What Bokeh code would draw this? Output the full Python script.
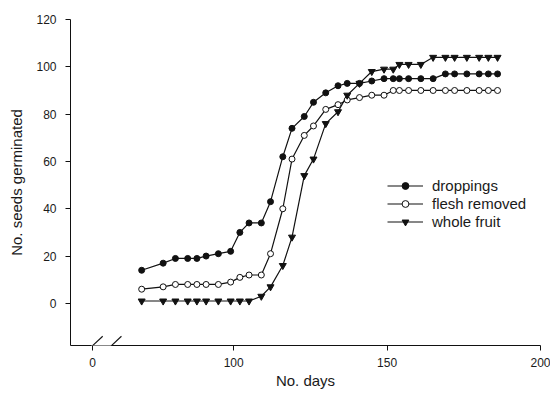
from bokeh.plotting import figure
from bokeh.models import (ColumnDataSource, FixedTicker, Legend, LegendItem,
                          PolyAnnotation, Range1d)
from bokeh.embed import file_html
from bokeh.resources import INLINE

# ---- data ----
days = [70, 77, 81, 85, 88, 91, 95, 99, 102, 105,
        109, 112, 116, 119, 123, 126, 130, 134, 137, 141,
        145, 149, 152, 154, 157, 161, 165, 169, 172, 176,
        180, 183, 186]
droppings = [14, 17, 19, 19, 19, 20, 21, 22, 30, 34,
             34, 43, 62, 74, 79, 85, 89, 92, 93, 93,
             94, 95, 95, 95, 95, 95, 95, 97, 97, 97,
             97, 97, 97]
flesh_removed = [6, 7, 8, 8, 8, 8, 8, 9, 11, 12,
                 12, 21, 40, 61, 71, 75, 82, 84, 86, 87,
                 88, 88, 90, 90, 90, 90, 90, 90, 90, 90,
                 90, 90, 90]
whole_fruit = [1, 1, 1, 1, 1, 1, 1, 1, 1, 1,
               3, 7, 16, 28, 54, 61, 76, 81, 88, 93,
               98, 99, 99, 101, 101, 101, 104, 104, 104, 104,
               104, 104, 104]

series_labels = ["droppings", "flesh removed", "whole fruit"]
y_ticks = [0, 20, 40, 60, 80, 100, 120]
x_ticks = [100, 150, 200]
break_label = "0"

# ---- layout constants ----
FONT = "Liberation Sans"
X_START, X_END = 46.8, 200
Y_START, Y_END = -17.8, 120
BREAK_LABEL_X = 54           # where the "0" of the broken axis sits
GAP_X0, GAP_X1 = 53.6, 60.1  # gap in the axis line
SLASH1 = ([50.9, 57.3], [-21.6, -13.9])
SLASH2 = ([57.1, 63.4], [-21.6, -13.9])

p = figure(width=550, height=402, output_backend="svg", toolbar_location=None,
           x_range=Range1d(X_START, X_END), y_range=Range1d(Y_START, Y_END),
           min_border_left=70, min_border_right=10, min_border_top=19,
           min_border_bottom=57)
p.grid.visible = False
p.outline_line_color = None
p.background_fill_color = "white"
p.border_fill_color = "white"

src = ColumnDataSource(dict(day=days, droppings=droppings,
                            flesh=flesh_removed, whole=whole_fruit))

LC = "#111111"
l1 = p.line("day", "droppings", source=src, line_color=LC, line_width=1.2)
l2 = p.line("day", "flesh", source=src, line_color=LC, line_width=1.2)
l3 = p.line("day", "whole", source=src, line_color=LC, line_width=1.2)
s1 = p.scatter("day", "droppings", source=src, marker="circle", size=6,
               fill_color=LC, line_color=LC, line_width=1)
s2 = p.scatter("day", "flesh", source=src, marker="circle", size=6,
               fill_color="white", line_color=LC, line_width=1)
s3 = p.scatter("day", "whole", source=src, marker="inverted_triangle", size=7,
               fill_color=LC, line_color=LC, line_width=1)

# ---- axes ----
ya = p.yaxis[0]
ya.ticker = FixedTicker(ticks=y_ticks)
ya.minor_tick_line_color = None
ya.major_tick_in = 0
ya.major_tick_out = 5
ya.axis_line_color = LC
ya.major_tick_line_color = LC
ya.major_label_standoff = 9
ya.major_label_text_font = FONT
ya.major_label_text_font_size = "12px"
ya.major_label_text_color = "#1a1a1a"
ya.axis_label = "No. seeds germinated"
ya.axis_label_text_font = FONT
ya.axis_label_text_font_size = "15px"
ya.axis_label_text_font_style = "normal"
ya.axis_label_text_color = "#1a1a1a"
ya.axis_label_standoff = 8

xa = p.xaxis[0]
xa.ticker = FixedTicker(ticks=[BREAK_LABEL_X] + x_ticks)
xa.major_label_overrides = {BREAK_LABEL_X: break_label}
xa.minor_tick_line_color = None
xa.major_tick_in = 0
xa.major_tick_out = 5
xa.axis_line_color = LC
xa.major_tick_line_color = LC
xa.major_label_standoff = 7
xa.major_label_text_font = FONT
xa.major_label_text_font_size = "12px"
xa.major_label_text_color = "#1a1a1a"
xa.axis_label = "No. days"
xa.axis_label_text_font = FONT
xa.axis_label_text_font_size = "15px"
xa.axis_label_text_font_style = "normal"
xa.axis_label_text_color = "#1a1a1a"
xa.axis_label_standoff = 2

# ---- axis break ----
p.add_layout(PolyAnnotation(xs=[GAP_X0, GAP_X1, GAP_X1, GAP_X0],
                            ys=[-17.1, -17.1, -20.9, -20.9],
                            fill_color="white", fill_alpha=1.0,
                            line_color=None))
for xs, ys in (SLASH1, SLASH2):
    p.add_layout(PolyAnnotation(xs=xs, ys=ys, fill_color=None, fill_alpha=0,
                                line_color=LC, line_alpha=1.0, line_width=1.1))

# ---- legend ----
legend = Legend(items=[LegendItem(label=series_labels[0], renderers=[l1, s1]),
                       LegendItem(label=series_labels[1], renderers=[l2, s2]),
                       LegendItem(label=series_labels[2], renderers=[l3, s3])],
                location=(317, 115), orientation="vertical", padding=0, margin=0,
                spacing=1, glyph_width=36, glyph_height=17, label_height=17,
                label_standoff=9, label_text_font=FONT,
                label_text_font_size="15px", label_text_color="#1a1a1a",
                border_line_color=None, background_fill_alpha=0)
p.add_layout(legend)

open("out.html", "w").write(file_html(p, INLINE))
